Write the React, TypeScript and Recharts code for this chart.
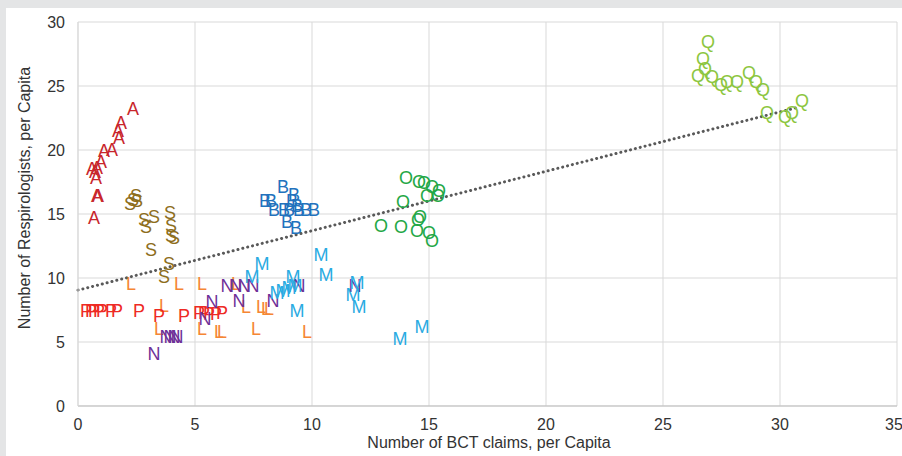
import React from 'react';
import { ScatterChart, Scatter, XAxis, YAxis, CartesianGrid, ReferenceLine } from 'recharts';

type Pt = { x: number; y: number };
const toPts = (a: number[][]): Pt[] => a.map(([x, y]) => ({ x, y }));

const seriesA = [[2.35,23.2],[1.84,22.1],[1.71,21.5],[1.75,20.9],[1.45,20.0],[1.11,19.9],[0.98,19.1],[0.81,18.6],[0.60,18.5],[0.73,18.3],[0.77,17.8],[0.81,16.4],[0.85,16.4],[0.68,14.7]];
const seriesS = [[2.22,15.8],[2.35,16.1],[2.48,16.4],[2.52,16.0],[2.82,14.5],[3.25,14.8],[2.91,14.0],[3.12,12.2],[3.93,15.1],[3.97,14.1],[3.97,13.3],[4.10,13.1],[3.89,11.1],[3.68,10.1]];
const seriesB = [[8.76,17.1],[7.99,16.0],[8.25,16.0],[8.38,15.3],[8.80,15.3],[9.23,16.5],[9.15,16.0],[9.36,15.6],[9.02,15.3],[9.44,15.3],[9.74,15.3],[10.09,15.3],[8.93,14.4],[9.32,13.9]];
const seriesO = [[14.02,17.8],[14.57,17.5],[14.79,17.4],[15.13,17.1],[15.43,16.8],[14.91,16.4],[15.38,16.4],[13.89,15.9],[14.62,14.8],[14.53,14.5],[12.95,14.1],[13.80,14.0],[14.49,13.7],[15.00,13.5],[15.13,12.9]];
const seriesQ = [[26.92,28.4],[26.71,27.1],[26.79,26.3],[26.50,25.8],[27.09,25.7],[27.48,25.1],[27.74,25.3],[28.16,25.3],[28.68,26.0],[28.97,25.3],[29.27,24.7],[29.44,22.9],[30.21,22.6],[30.51,22.9],[30.94,23.8]];
const seriesM = [[10.38,11.8],[7.86,11.1],[10.60,10.2],[7.44,10.1],[9.19,10.1],[8.50,8.8],[8.76,9.0],[9.02,9.2],[9.27,9.4],[11.92,9.6],[11.75,8.7],[12.01,7.7],[9.36,7.4],[13.76,5.2],[14.70,6.2]];
const seriesN = [[3.25,4.1],[3.76,5.4],[3.93,5.4],[4.10,5.4],[4.23,5.4],[5.43,6.8],[5.73,8.1],[6.37,9.4],[6.75,9.4],[7.09,9.4],[7.48,9.4],[6.88,8.2],[8.33,8.2],[9.44,9.4],[11.84,9.4]];
const seriesL = [[2.26,9.5],[4.32,9.5],[5.30,9.5],[6.75,9.5],[3.68,7.8],[3.46,6.0],[5.30,6.0],[6.03,5.8],[6.15,5.8],[7.18,7.7],[7.82,7.7],[8.03,7.6],[8.16,7.6],[7.61,6.0],[9.79,5.8]];
const seriesP = [[0.34,7.4],[0.56,7.4],[0.68,7.4],[0.90,7.4],[1.03,7.4],[1.41,7.4],[1.67,7.4],[2.61,7.4],[3.46,7.0],[4.53,7.0],[5.17,7.3],[5.38,7.3],[5.60,7.2],[5.90,7.2],[6.15,7.3]];

const trend = [{ x: 0, y: 9.05 }, { x: 30.7, y: 23.3 }];
const xTicks = [0, 5, 10, 15, 20, 25, 30, 35];
const yTicks = [0, 5, 10, 15, 20, 25, 30];

const groups: { letter: string; color: string; data: number[][] }[] = [
  { letter: 'A', color: '#c8262c', data: seriesA },
  { letter: 'S', color: '#8d6e1c', data: seriesS },
  { letter: 'B', color: '#2272bd', data: seriesB },
  { letter: 'O', color: '#1fa846', data: seriesO },
  { letter: 'Q', color: '#8dc63f', data: seriesQ },
  { letter: 'L', color: '#f58634', data: seriesL },
  { letter: 'P', color: '#ee2a24', data: seriesP },
  { letter: 'N', color: '#6f3198', data: seriesN },
  { letter: 'M', color: '#29abe2', data: seriesM },
];

const FONT = '"Liberation Sans", Arial, sans-serif';

const makeShape = (letter: string, color: string) => (p: any) => (
  <text
    x={p.cx}
    y={p.cy}
    textAnchor="middle"
    dominantBaseline="central"
    fontSize={18}
    fontFamily={FONT}
    fill={color}
  >
    {letter}
  </text>
);

export default function App() {
  return (
    <div style={{ width: 902, height: 456, background: '#e4e5e6', position: 'relative', overflow: 'hidden' }}>
      <style>{`html,body{margin:0;padding:0;background:#e4e5e6;overflow:hidden;}`}</style>
      <div style={{ position: 'absolute', left: 6, top: 8, width: 896, height: 448, background: '#ffffff' }} />
      <div style={{ position: 'absolute', left: 0, top: 0 }}>
        <ScatterChart width={902} height={456} margin={{ top: 22, right: 5, bottom: 0, left: 0 }}>
          <CartesianGrid stroke="#d9d9d9" strokeWidth={1} />
          <XAxis
            type="number"
            dataKey="x"
            domain={[0, 35]}
            ticks={xTicks}
            height={50}
            tickSize={0}
            tickMargin={13}
            axisLine={{ stroke: '#bfbfbf' }}
            tick={{ fill: '#333333', fontSize: 16, fontFamily: FONT }}
            label={{
              content: () => (
                <text x={489} y={448} textAnchor="middle" fontSize={16} fontFamily={FONT} fill="#333333">
                  Number of BCT claims, per Capita
                </text>
              ),
            }}
          />
          <YAxis
            type="number"
            dataKey="y"
            domain={[0, 30]}
            ticks={yTicks}
            width={78}
            tickSize={0}
            tickMargin={13}
            axisLine={{ stroke: '#d9d9d9' }}
            tick={{ fill: '#333333', fontSize: 16, fontFamily: FONT }}
            label={{
              content: () => (
                <text
                  x={24}
                  y={198}
                  textAnchor="middle"
                  dominantBaseline="central"
                  transform="rotate(-90 24 198)"
                  fontSize={16}
                  fontFamily={FONT}
                  fill="#333333"
                >
                  Number of Respirologists, per Capita
                </text>
              ),
            }}
          />
          <ReferenceLine
            segment={trend}
            stroke="#595959"
            strokeWidth={3}
            strokeDasharray="0.1 4.9"
            strokeLinecap="round"
          />
          {groups.map((g) => (
            <Scatter
              key={g.letter}
              data={toPts(g.data)}
              isAnimationActive={false}
              shape={makeShape(g.letter, g.color)}
            />
          ))}
        </ScatterChart>
      </div>
    </div>
  );
}
